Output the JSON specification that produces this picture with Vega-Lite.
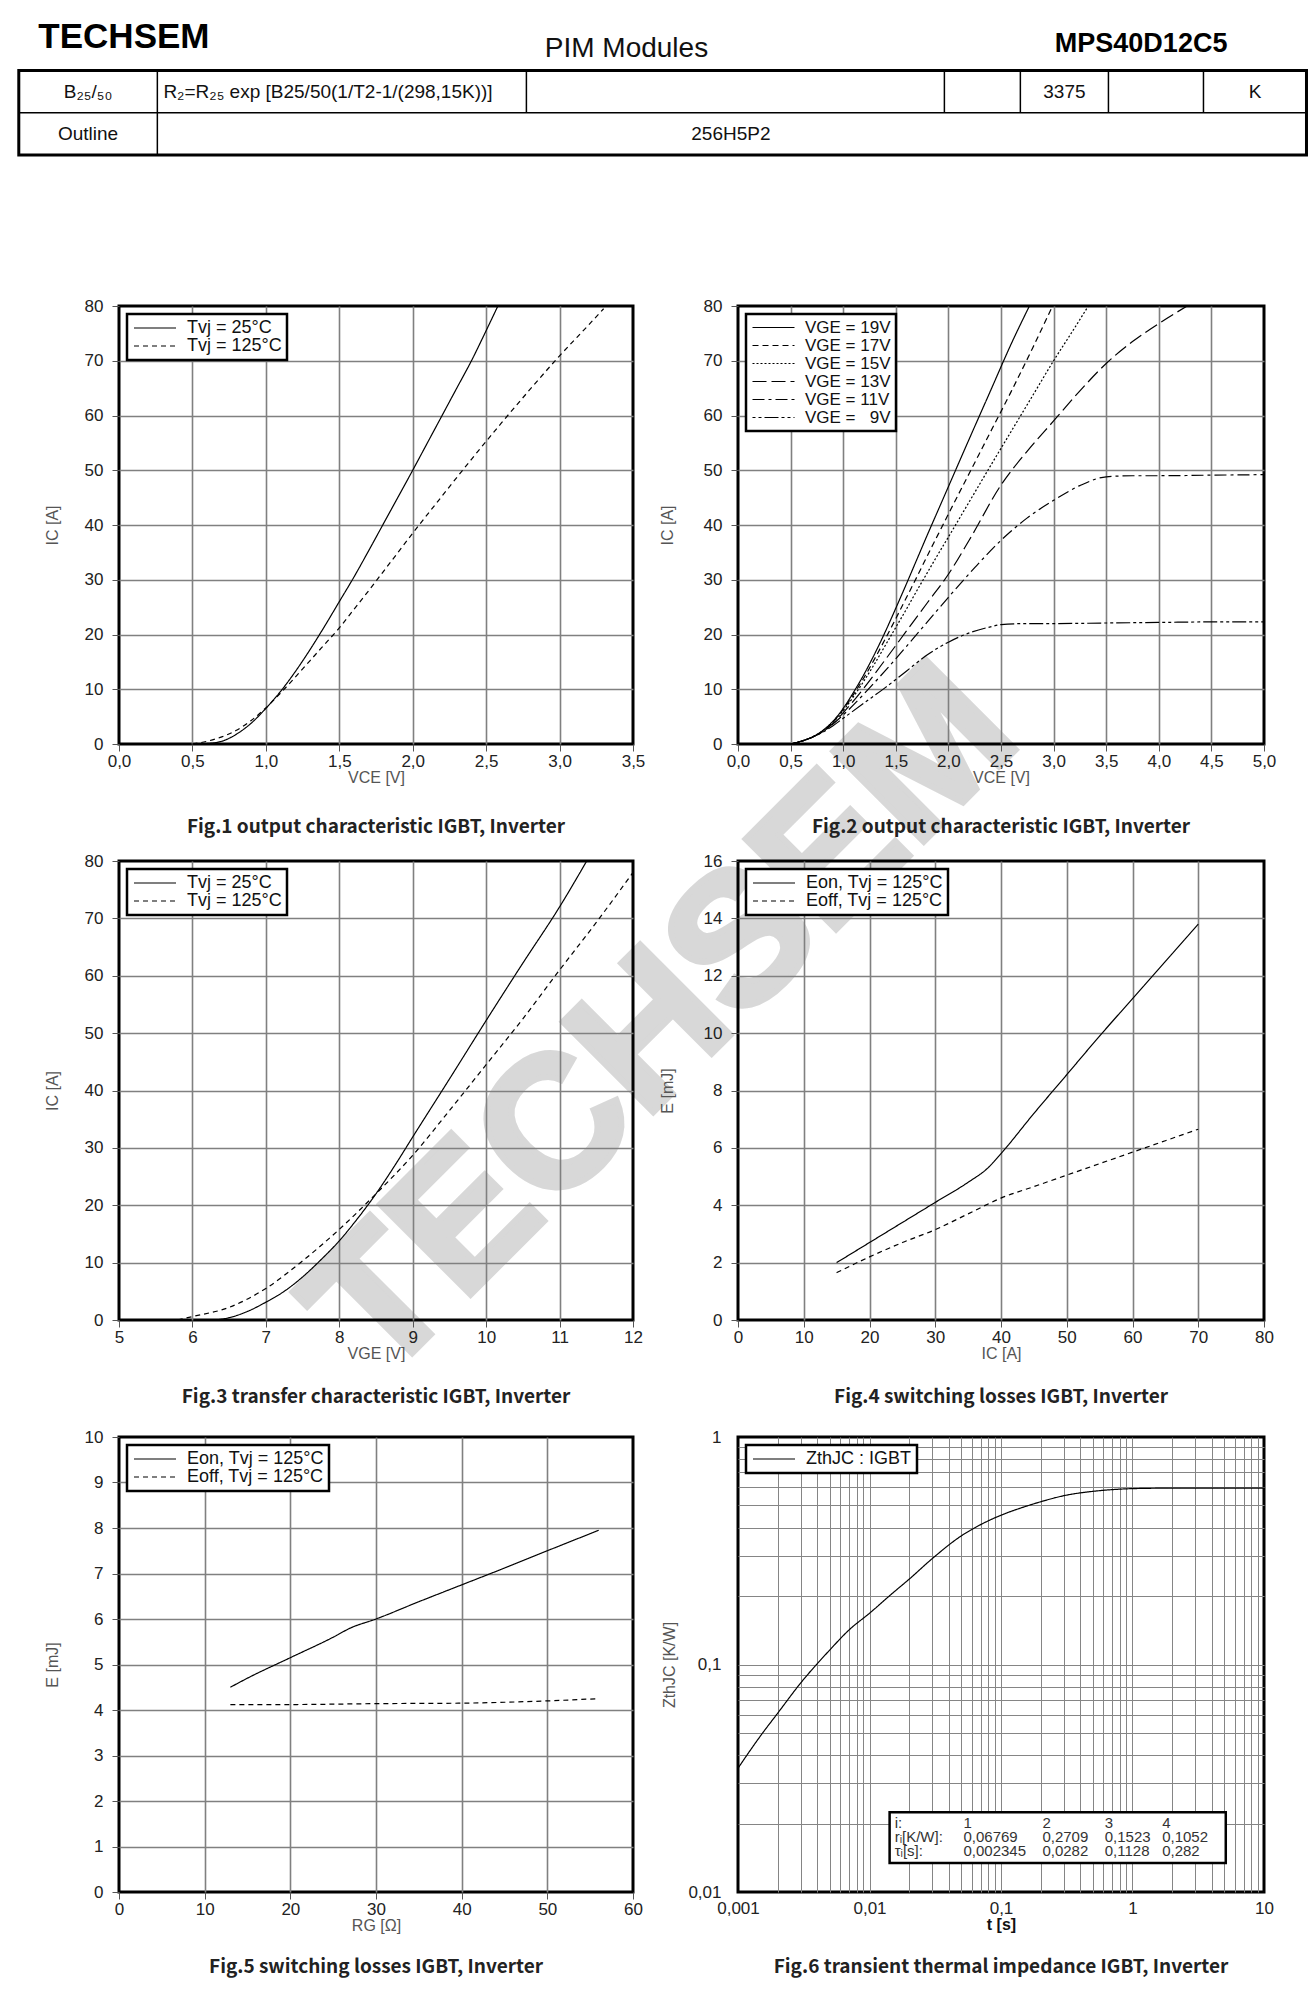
{
"$schema": "https://vega.github.io/schema/vega-lite/v6.json",
"padding": {"left": 17, "top": 0, "right": 0, "bottom": 0},
"bounds": "flush",
"spacing": 146,
"resolve": {"scale": {"strokeDash": "independent"}, "legend": {"strokeDash": "independent"}},
"vconcat": [
{
 "width": 1188, "height": 160,
 "view": {"stroke": null},
 "data": {"values": [
  {"k": "brand", "t": "TECHSEM"},
  {"k": "title", "t": "PIM  Modules"},
  {"k": "part", "t": "MPS40D12C5"},
  {"k": "b", "t": "B₂₅/₅₀"},
  {"k": "formula", "t": "R₂=R₂₅ exp [B25/50(1/T2-1/(298,15K))]"},
  {"k": "val", "t": "3375"},
  {"k": "unit", "t": "K"},
  {"k": "outline", "t": "Outline"},
  {"k": "pkg", "t": "256H5P2"},
  {"k": "wm", "t": "TECHSEM"}
 ]},
 "layer": [
  {"data": {"values": [{}]}, "mark": {"type": "rect", "filled": false, "stroke": "#000000", "strokeWidth": 3},
   "encoding": {"x": {"datum": 0, "type": "quantitative", "scale": {"domain": [7.782, 100.04], "nice": false, "zero": false}, "axis": null}, "x2": {"datum": 100},
    "y": {"datum": 0, "type": "quantitative", "scale": {"domain": [-1.669, 2.118], "reverse": true, "nice": false, "zero": false}, "axis": null}, "y2": {"datum": 2}}},
  {"data": {"values": [{}]}, "mark": {"type": "rule", "strokeWidth": 1.5, "color": "#000000"},
   "encoding": {"x": {"datum": 0, "type": "quantitative", "axis": null}, "x2": {"datum": 100}, "y": {"datum": 1, "type": "quantitative", "axis": null}}},
  {"data": {"values": [{}]}, "mark": {"type": "rule", "strokeWidth": 1.5, "color": "#000000"},
   "encoding": {"x": {"datum": 10.76, "type": "quantitative", "axis": null}, "y": {"datum": 0, "type": "quantitative", "axis": null}, "y2": {"datum": 2}}},
  {"data": {"values": [{}]}, "mark": {"type": "rule", "strokeWidth": 1.5, "color": "#000000"},
   "encoding": {"x": {"datum": 39.42, "type": "quantitative", "axis": null}, "y": {"datum": 0, "type": "quantitative", "axis": null}, "y2": {"datum": 1}}},
  {"data": {"values": [{}]}, "mark": {"type": "rule", "strokeWidth": 1.5, "color": "#000000"},
   "encoding": {"x": {"datum": 71.88, "type": "quantitative", "axis": null}, "y": {"datum": 0, "type": "quantitative", "axis": null}, "y2": {"datum": 1}}},
  {"data": {"values": [{}]}, "mark": {"type": "rule", "strokeWidth": 1.5, "color": "#000000"},
   "encoding": {"x": {"datum": 77.78, "type": "quantitative", "axis": null}, "y": {"datum": 0, "type": "quantitative", "axis": null}, "y2": {"datum": 1}}},
  {"data": {"values": [{}]}, "mark": {"type": "rule", "strokeWidth": 1.5, "color": "#000000"},
   "encoding": {"x": {"datum": 84.62, "type": "quantitative", "axis": null}, "y": {"datum": 0, "type": "quantitative", "axis": null}, "y2": {"datum": 1}}},
  {"data": {"values": [{}]}, "mark": {"type": "rule", "strokeWidth": 1.5, "color": "#000000"},
   "encoding": {"x": {"datum": 92.0, "type": "quantitative", "axis": null}, "y": {"datum": 0, "type": "quantitative", "axis": null}, "y2": {"datum": 1}}},
  {"transform": [{"filter": "datum.k === 'wm'"}], "mark": {"type": "text", "fontSize": 186, "fontWeight": "bold", "font": "Liberation Sans", "align": "center", "baseline": "middle", "angle": -45, "color": "#cfcfcf", "stroke": "#cfcfcf", "strokeWidth": 6, "opacity": 0.8},
   "encoding": {"x": {"datum": 50.06, "type": "quantitative", "axis": null}, "y": {"datum": 22.54, "type": "quantitative", "axis": null}, "text": {"field": "t"}}},
  {"transform": [{"filter": "datum.k === 'brand'"}], "mark": {"type": "text", "align": "left", "baseline": "alphabetic", "fontSize": 35, "fontWeight": "bold", "font": "Liberation Sans", "color": "#000000"},
   "encoding": {"x": {"datum": 1.52, "type": "quantitative", "axis": null}, "y": {"datum": -0.533, "type": "quantitative", "axis": null}, "text": {"field": "t"}}},
  {"transform": [{"filter": "datum.k === 'title'"}], "mark": {"type": "text", "align": "center", "baseline": "alphabetic", "fontSize": 28, "font": "Liberation Sans Narrow, Liberation Sans", "color": "#111111"},
   "encoding": {"x": {"datum": 47.19, "type": "quantitative", "axis": null}, "y": {"datum": -0.32, "type": "quantitative", "axis": null}, "text": {"field": "t"}}},
  {"transform": [{"filter": "datum.k === 'part'"}], "mark": {"type": "text", "align": "right", "baseline": "alphabetic", "fontSize": 27, "fontWeight": "bold", "font": "Liberation Sans", "color": "#000000"},
   "encoding": {"x": {"datum": 93.86, "type": "quantitative", "axis": null}, "y": {"datum": -0.438, "type": "quantitative", "axis": null}, "text": {"field": "t"}}},
  {"transform": [{"filter": "datum.k === 'b'"}], "mark": {"type": "text", "align": "center", "baseline": "middle", "fontSize": 19, "font": "Liberation Sans", "color": "#111111"},
   "encoding": {"x": {"datum": 5.38, "type": "quantitative", "axis": null}, "y": {"datum": 0.5, "type": "quantitative", "axis": null}, "text": {"field": "t"}}},
  {"transform": [{"filter": "datum.k === 'formula'"}], "mark": {"type": "text", "align": "left", "baseline": "middle", "fontSize": 19, "font": "Liberation Sans", "color": "#111111"},
   "encoding": {"x": {"datum": 11.23, "type": "quantitative", "axis": null}, "y": {"datum": 0.5, "type": "quantitative", "axis": null}, "text": {"field": "t"}}},
  {"transform": [{"filter": "datum.k === 'val'"}], "mark": {"type": "text", "align": "center", "baseline": "middle", "fontSize": 19, "font": "Liberation Sans", "color": "#111111"},
   "encoding": {"x": {"datum": 81.2, "type": "quantitative", "axis": null}, "y": {"datum": 0.5, "type": "quantitative", "axis": null}, "text": {"field": "t"}}},
  {"transform": [{"filter": "datum.k === 'unit'"}], "mark": {"type": "text", "align": "center", "baseline": "middle", "fontSize": 19, "font": "Liberation Sans", "color": "#111111"},
   "encoding": {"x": {"datum": 96.0, "type": "quantitative", "axis": null}, "y": {"datum": 0.5, "type": "quantitative", "axis": null}, "text": {"field": "t"}}},
  {"transform": [{"filter": "datum.k === 'outline'"}], "mark": {"type": "text", "align": "center", "baseline": "middle", "fontSize": 19, "font": "Liberation Sans", "color": "#111111"},
   "encoding": {"x": {"datum": 5.38, "type": "quantitative", "axis": null}, "y": {"datum": 1.5, "type": "quantitative", "axis": null}, "text": {"field": "t"}}},
  {"transform": [{"filter": "datum.k === 'pkg'"}], "mark": {"type": "text", "align": "center", "baseline": "middle", "fontSize": 19, "font": "Liberation Sans", "color": "#111111"},
   "encoding": {"x": {"datum": 55.3, "type": "quantitative", "axis": null}, "y": {"datum": 1.5, "type": "quantitative", "axis": null}, "text": {"field": "t"}}}
 ]
},
{
 "columns": 2,
 "bounds": "flush",
 "spacing": {"row": 117, "column": 105},
 "resolve": {"scale": {"strokeDash": "independent"}, "legend": {"strokeDash": "independent"}},
 "concat": [
 {
  "width": 514, "height": 438,
  "title": {"text": "Fig.1 output characteristic IGBT, Inverter", "offset": 33},
  "data": {"values": [
   {"c":"Tvj = 25°C","x":0.5,"y":0},{"c":"Tvj = 25°C","x":0.6,"y":0.1},{"c":"Tvj = 25°C","x":0.7,"y":0.5},{"c":"Tvj = 25°C","x":0.8,"y":1.8},{"c":"Tvj = 25°C","x":0.9,"y":3.8},{"c":"Tvj = 25°C","x":1.0,"y":6.5},{"c":"Tvj = 25°C","x":1.1,"y":9.6},{"c":"Tvj = 25°C","x":1.2,"y":13.2},{"c":"Tvj = 25°C","x":1.3,"y":17.2},{"c":"Tvj = 25°C","x":1.4,"y":21.5},{"c":"Tvj = 25°C","x":1.5,"y":26},{"c":"Tvj = 25°C","x":1.6,"y":30.5},{"c":"Tvj = 25°C","x":1.7,"y":35.3},{"c":"Tvj = 25°C","x":1.8,"y":40.2},{"c":"Tvj = 25°C","x":1.9,"y":45.1},{"c":"Tvj = 25°C","x":2.0,"y":50},{"c":"Tvj = 25°C","x":2.1,"y":55},{"c":"Tvj = 25°C","x":2.2,"y":60},{"c":"Tvj = 25°C","x":2.3,"y":65},{"c":"Tvj = 25°C","x":2.4,"y":70},{"c":"Tvj = 25°C","x":2.5,"y":75.5},{"c":"Tvj = 25°C","x":2.58,"y":80},
   {"c":"Tvj = 125°C","x":0.5,"y":0},{"c":"Tvj = 125°C","x":0.6,"y":0.5},{"c":"Tvj = 125°C","x":0.7,"y":1.3},{"c":"Tvj = 125°C","x":0.8,"y":2.5},{"c":"Tvj = 125°C","x":0.9,"y":4.3},{"c":"Tvj = 125°C","x":1.0,"y":6.6},{"c":"Tvj = 125°C","x":1.1,"y":9.3},{"c":"Tvj = 125°C","x":1.2,"y":12.2},{"c":"Tvj = 125°C","x":1.3,"y":15.2},{"c":"Tvj = 125°C","x":1.4,"y":18.2},{"c":"Tvj = 125°C","x":1.5,"y":21.2},{"c":"Tvj = 125°C","x":1.6,"y":24.6},{"c":"Tvj = 125°C","x":1.7,"y":28.0},{"c":"Tvj = 125°C","x":1.8,"y":31.5},{"c":"Tvj = 125°C","x":1.9,"y":35.0},{"c":"Tvj = 125°C","x":2.0,"y":38.5},{"c":"Tvj = 125°C","x":2.2,"y":45.3},{"c":"Tvj = 125°C","x":2.4,"y":52},{"c":"Tvj = 125°C","x":2.6,"y":58.5},{"c":"Tvj = 125°C","x":2.8,"y":64.8},{"c":"Tvj = 125°C","x":3.0,"y":70.9},{"c":"Tvj = 125°C","x":3.2,"y":76.6},{"c":"Tvj = 125°C","x":3.3,"y":79.5}
  ]},
  "mark": {"type": "line", "interpolate": "monotone"},
  "encoding": {
   "x": {"field": "x", "type": "quantitative", "scale": {"domain": [0, 3.5], "nice": false, "zero": false},
    "axis": {"title": "VCE [V]", "values": [0,0.5,1,1.5,2,2.5,3,3.5], "labelExpr": "replace(format(datum.value, '.1f'), '.', ',')",
     "gridOpacity": {"condition": {"test": "datum.value <= 0 || datum.value >= 3.5", "value": 0}, "value": 1}}},
   "y": {"field": "y", "type": "quantitative", "scale": {"domain": [0, 80], "nice": false},
    "axis": {"title": "IC [A]", "values": [0,10,20,30,40,50,60,70,80], "titlePadding": 24,
     "gridOpacity": {"condition": {"test": "datum.value <= 0 || datum.value >= 80", "value": 0}, "value": 1}}},
   "strokeDash": {"field": "c", "type": "nominal", "scale": {"domain": ["Tvj = 25°C", "Tvj = 125°C"], "range": [[1, 0], [5, 4]]}, "legend": {"title": null, "symbolType": "M-1,0L5,0"}}
  }
 },
 {
  "width": 526, "height": 438,
  "title": {"text": "Fig.2 output characteristic IGBT, Inverter", "offset": 33},
  "data": {"values": [
   {"c":"VGE = 19V","x":0.5,"y":0},{"c":"VGE = 19V","x":0.6,"y":0.5},{"c":"VGE = 19V","x":0.7,"y":1.2},{"c":"VGE = 19V","x":0.8,"y":2.4},{"c":"VGE = 19V","x":0.9,"y":4.1},{"c":"VGE = 19V","x":1.0,"y":6.5},{"c":"VGE = 19V","x":1.1,"y":9.5},{"c":"VGE = 19V","x":1.2,"y":12.8},{"c":"VGE = 19V","x":1.3,"y":16.5},{"c":"VGE = 19V","x":1.4,"y":20.5},{"c":"VGE = 19V","x":1.5,"y":24.8},{"c":"VGE = 19V","x":1.6,"y":29.2},{"c":"VGE = 19V","x":1.7,"y":33.7},{"c":"VGE = 19V","x":1.8,"y":38.2},{"c":"VGE = 19V","x":1.9,"y":42.6},{"c":"VGE = 19V","x":2.0,"y":47},{"c":"VGE = 19V","x":2.2,"y":55.8},{"c":"VGE = 19V","x":2.4,"y":64.5},{"c":"VGE = 19V","x":2.6,"y":73.2},{"c":"VGE = 19V","x":2.77,"y":80},
   {"c":"VGE = 17V","x":0.5,"y":0},{"c":"VGE = 17V","x":0.6,"y":0.5},{"c":"VGE = 17V","x":0.7,"y":1.2},{"c":"VGE = 17V","x":0.8,"y":2.3},{"c":"VGE = 17V","x":0.9,"y":4.0},{"c":"VGE = 17V","x":1.0,"y":6.3},{"c":"VGE = 17V","x":1.1,"y":9.1},{"c":"VGE = 17V","x":1.2,"y":12.2},{"c":"VGE = 17V","x":1.3,"y":15.6},{"c":"VGE = 17V","x":1.4,"y":19.2},{"c":"VGE = 17V","x":1.5,"y":22.9},{"c":"VGE = 17V","x":1.6,"y":26.7},{"c":"VGE = 17V","x":1.7,"y":30.5},{"c":"VGE = 17V","x":1.8,"y":34.4},{"c":"VGE = 17V","x":1.9,"y":38.2},{"c":"VGE = 17V","x":2.0,"y":42},{"c":"VGE = 17V","x":2.2,"y":49.5},{"c":"VGE = 17V","x":2.4,"y":57},{"c":"VGE = 17V","x":2.6,"y":64.5},{"c":"VGE = 17V","x":2.8,"y":72.3},{"c":"VGE = 17V","x":2.99,"y":80},
   {"c":"VGE = 15V","x":0.5,"y":0},{"c":"VGE = 15V","x":0.6,"y":0.5},{"c":"VGE = 15V","x":0.7,"y":1.2},{"c":"VGE = 15V","x":0.8,"y":2.3},{"c":"VGE = 15V","x":0.9,"y":3.9},{"c":"VGE = 15V","x":1.0,"y":6.1},{"c":"VGE = 15V","x":1.1,"y":8.7},{"c":"VGE = 15V","x":1.2,"y":11.6},{"c":"VGE = 15V","x":1.3,"y":14.7},{"c":"VGE = 15V","x":1.4,"y":18},{"c":"VGE = 15V","x":1.5,"y":21.3},{"c":"VGE = 15V","x":1.6,"y":24.6},{"c":"VGE = 15V","x":1.7,"y":28},{"c":"VGE = 15V","x":1.8,"y":31.3},{"c":"VGE = 15V","x":1.9,"y":34.6},{"c":"VGE = 15V","x":2.0,"y":37.8},{"c":"VGE = 15V","x":2.2,"y":44.3},{"c":"VGE = 15V","x":2.4,"y":50.8},{"c":"VGE = 15V","x":2.6,"y":57.2},{"c":"VGE = 15V","x":2.8,"y":63.6},{"c":"VGE = 15V","x":3.0,"y":70},{"c":"VGE = 15V","x":3.2,"y":76},{"c":"VGE = 15V","x":3.33,"y":80},
   {"c":"VGE = 13V","x":0.5,"y":0},{"c":"VGE = 13V","x":0.6,"y":0.5},{"c":"VGE = 13V","x":0.7,"y":1.2},{"c":"VGE = 13V","x":0.8,"y":2.2},{"c":"VGE = 13V","x":0.9,"y":3.7},{"c":"VGE = 13V","x":1.0,"y":5.7},{"c":"VGE = 13V","x":1.2,"y":10.3},{"c":"VGE = 13V","x":1.4,"y":15.4},{"c":"VGE = 13V","x":1.6,"y":20.6},{"c":"VGE = 13V","x":1.8,"y":25.8},{"c":"VGE = 13V","x":2.0,"y":31},{"c":"VGE = 13V","x":2.2,"y":37.3},{"c":"VGE = 13V","x":2.5,"y":47.3},{"c":"VGE = 13V","x":2.75,"y":53.5},{"c":"VGE = 13V","x":3.0,"y":59},{"c":"VGE = 13V","x":3.25,"y":64.5},{"c":"VGE = 13V","x":3.5,"y":69.5},{"c":"VGE = 13V","x":3.75,"y":73.5},{"c":"VGE = 13V","x":4.0,"y":76.8},{"c":"VGE = 13V","x":4.27,"y":80},
   {"c":"VGE = 11V","x":0.5,"y":0},{"c":"VGE = 11V","x":0.6,"y":0.5},{"c":"VGE = 11V","x":0.7,"y":1.2},{"c":"VGE = 11V","x":0.8,"y":2.2},{"c":"VGE = 11V","x":0.9,"y":3.6},{"c":"VGE = 11V","x":1.0,"y":5.3},{"c":"VGE = 11V","x":1.2,"y":9.2},{"c":"VGE = 11V","x":1.4,"y":13.4},{"c":"VGE = 11V","x":1.6,"y":17.8},{"c":"VGE = 11V","x":1.8,"y":22.3},{"c":"VGE = 11V","x":2.0,"y":26.8},{"c":"VGE = 11V","x":2.25,"y":32.2},{"c":"VGE = 11V","x":2.5,"y":37.2},{"c":"VGE = 11V","x":2.75,"y":41.3},{"c":"VGE = 11V","x":3.0,"y":44.5},{"c":"VGE = 11V","x":3.25,"y":47.2},{"c":"VGE = 11V","x":3.5,"y":48.8},{"c":"VGE = 11V","x":3.75,"y":49},{"c":"VGE = 11V","x":4.0,"y":49},{"c":"VGE = 11V","x":4.5,"y":49.1},{"c":"VGE = 11V","x":5.0,"y":49.2},
   {"c":"VGE = \u20079V","x":0.5,"y":0},{"c":"VGE = \u20079V","x":0.6,"y":0.5},{"c":"VGE = \u20079V","x":0.7,"y":1.2},{"c":"VGE = \u20079V","x":0.8,"y":2.1},{"c":"VGE = \u20079V","x":0.9,"y":3.3},{"c":"VGE = \u20079V","x":1.0,"y":4.7},{"c":"VGE = \u20079V","x":1.2,"y":7.5},{"c":"VGE = \u20079V","x":1.4,"y":10.3},{"c":"VGE = \u20079V","x":1.6,"y":13.3},{"c":"VGE = \u20079V","x":1.8,"y":16.3},{"c":"VGE = \u20079V","x":2.0,"y":18.6},{"c":"VGE = \u20079V","x":2.2,"y":20.3},{"c":"VGE = \u20079V","x":2.4,"y":21.4},{"c":"VGE = \u20079V","x":2.5,"y":21.8},{"c":"VGE = \u20079V","x":2.75,"y":22},{"c":"VGE = \u20079V","x":3.0,"y":22},{"c":"VGE = \u20079V","x":3.5,"y":22.1},{"c":"VGE = \u20079V","x":4.0,"y":22.2},{"c":"VGE = \u20079V","x":4.5,"y":22.3},{"c":"VGE = \u20079V","x":5.0,"y":22.3}
  ]},
  "mark": {"type": "line", "interpolate": "monotone"},
  "encoding": {
   "x": {"field": "x", "type": "quantitative", "scale": {"domain": [0, 5], "nice": false, "zero": false},
    "axis": {"title": "VCE [V]", "values": [0,0.5,1,1.5,2,2.5,3,3.5,4,4.5,5], "labelExpr": "replace(format(datum.value, '.1f'), '.', ',')",
     "gridOpacity": {"condition": {"test": "datum.value <= 0 || datum.value >= 5", "value": 0}, "value": 1}}},
   "y": {"field": "y", "type": "quantitative", "scale": {"domain": [0, 80], "nice": false},
    "axis": {"title": "IC [A]", "values": [0,10,20,30,40,50,60,70,80], "titlePadding": 28,
     "gridOpacity": {"condition": {"test": "datum.value <= 0 || datum.value >= 80", "value": 0}, "value": 1}}},
   "strokeDash": {"field": "c", "type": "nominal", "scale": {"domain": ["VGE = 19V", "VGE = 17V", "VGE = 15V", "VGE = 13V", "VGE = 11V", "VGE = \u20079V"], "range": [[1, 0], [6, 4], [2, 2], [14, 5], [12, 4, 3, 4], [3, 3, 3, 3, 14, 3]]}, "legend": {"title": null, "symbolType": "M-1,0L5,0", "rowPadding": 0, "labelFontSize": 17}}
  }
 },
 {
  "width": 514, "height": 459,
  "title": {"text": "Fig.3 transfer characteristic IGBT, Inverter", "offset": 27},
  "data": {"values": [
   {"c":"Tvj = 25°C","x":6.3,"y":0},{"c":"Tvj = 25°C","x":6.5,"y":0.4},{"c":"Tvj = 25°C","x":6.75,"y":1.5},{"c":"Tvj = 25°C","x":7.0,"y":3.1},{"c":"Tvj = 25°C","x":7.25,"y":5},{"c":"Tvj = 25°C","x":7.5,"y":7.5},{"c":"Tvj = 25°C","x":7.75,"y":10.5},{"c":"Tvj = 25°C","x":8.0,"y":13.8},{"c":"Tvj = 25°C","x":8.25,"y":17.7},{"c":"Tvj = 25°C","x":8.5,"y":22},{"c":"Tvj = 25°C","x":8.75,"y":26.8},{"c":"Tvj = 25°C","x":9.0,"y":31.9},{"c":"Tvj = 25°C","x":9.5,"y":42},{"c":"Tvj = 25°C","x":10.0,"y":52.2},{"c":"Tvj = 25°C","x":10.5,"y":62.2},{"c":"Tvj = 25°C","x":11.0,"y":72},{"c":"Tvj = 25°C","x":11.37,"y":80},
   {"c":"Tvj = 125°C","x":5.8,"y":0},{"c":"Tvj = 125°C","x":6.0,"y":0.6},{"c":"Tvj = 125°C","x":6.5,"y":2.2},{"c":"Tvj = 125°C","x":7.0,"y":5.5},{"c":"Tvj = 125°C","x":7.5,"y":10.3},{"c":"Tvj = 125°C","x":8.0,"y":15.8},{"c":"Tvj = 125°C","x":8.5,"y":22},{"c":"Tvj = 125°C","x":9.0,"y":28.7},{"c":"Tvj = 125°C","x":9.5,"y":36.5},{"c":"Tvj = 125°C","x":10.0,"y":44.5},{"c":"Tvj = 125°C","x":10.5,"y":52.5},{"c":"Tvj = 125°C","x":11.0,"y":61},{"c":"Tvj = 125°C","x":11.5,"y":69.3},{"c":"Tvj = 125°C","x":12.0,"y":78}
  ]},
  "mark": {"type": "line", "interpolate": "monotone"},
  "encoding": {
   "x": {"field": "x", "type": "quantitative", "scale": {"domain": [5, 12], "nice": false, "zero": false},
    "axis": {"title": "VGE [V]", "values": [5,6,7,8,9,10,11,12],
     "gridOpacity": {"condition": {"test": "datum.value <= 5 || datum.value >= 12", "value": 0}, "value": 1}}},
   "y": {"field": "y", "type": "quantitative", "scale": {"domain": [0, 80], "nice": false},
    "axis": {"title": "IC [A]", "values": [0,10,20,30,40,50,60,70,80], "titlePadding": 24,
     "gridOpacity": {"condition": {"test": "datum.value <= 0 || datum.value >= 80", "value": 0}, "value": 1}}},
   "strokeDash": {"field": "c", "type": "nominal", "scale": {"domain": ["Tvj = 25°C", "Tvj = 125°C"], "range": [[1, 0], [5, 4]]}, "legend": {"title": null, "symbolType": "M-1,0L5,0"}}
  }
 },
 {
  "width": 526, "height": 459,
  "title": {"text": "Fig.4 switching losses IGBT, Inverter", "offset": 27},
  "data": {"values": [
   {"c":"Eon, Tvj = 125°C","x":15,"y":2.0},{"c":"Eon, Tvj = 125°C","x":20,"y":2.7},{"c":"Eon, Tvj = 125°C","x":25,"y":3.4},{"c":"Eon, Tvj = 125°C","x":30,"y":4.1},{"c":"Eon, Tvj = 125°C","x":35,"y":4.8},{"c":"Eon, Tvj = 125°C","x":38,"y":5.3},{"c":"Eon, Tvj = 125°C","x":40,"y":5.8},{"c":"Eon, Tvj = 125°C","x":45,"y":7.2},{"c":"Eon, Tvj = 125°C","x":50,"y":8.55},{"c":"Eon, Tvj = 125°C","x":55,"y":9.9},{"c":"Eon, Tvj = 125°C","x":60,"y":11.2},{"c":"Eon, Tvj = 125°C","x":65,"y":12.5},{"c":"Eon, Tvj = 125°C","x":70,"y":13.8},
   {"c":"Eoff, Tvj = 125°C","x":15,"y":1.65},{"c":"Eoff, Tvj = 125°C","x":20,"y":2.2},{"c":"Eoff, Tvj = 125°C","x":25,"y":2.7},{"c":"Eoff, Tvj = 125°C","x":30,"y":3.15},{"c":"Eoff, Tvj = 125°C","x":35,"y":3.7},{"c":"Eoff, Tvj = 125°C","x":40,"y":4.25},{"c":"Eoff, Tvj = 125°C","x":45,"y":4.65},{"c":"Eoff, Tvj = 125°C","x":50,"y":5.05},{"c":"Eoff, Tvj = 125°C","x":55,"y":5.45},{"c":"Eoff, Tvj = 125°C","x":60,"y":5.85},{"c":"Eoff, Tvj = 125°C","x":65,"y":6.25},{"c":"Eoff, Tvj = 125°C","x":70,"y":6.65}
  ]},
  "mark": {"type": "line", "interpolate": "monotone"},
  "encoding": {
   "x": {"field": "x", "type": "quantitative", "scale": {"domain": [0, 80], "nice": false, "zero": false},
    "axis": {"title": "IC [A]", "values": [0,10,20,30,40,50,60,70,80],
     "gridOpacity": {"condition": {"test": "datum.value <= 0 || datum.value >= 80", "value": 0}, "value": 1}}},
   "y": {"field": "y", "type": "quantitative", "scale": {"domain": [0, 16], "nice": false},
    "axis": {"title": "E [mJ]", "values": [0,2,4,6,8,10,12,14,16], "titlePadding": 28,
     "gridOpacity": {"condition": {"test": "datum.value <= 0 || datum.value >= 16", "value": 0}, "value": 1}}},
   "strokeDash": {"field": "c", "type": "nominal", "scale": {"domain": ["Eon, Tvj = 125°C", "Eoff, Tvj = 125°C"], "range": [[1, 0], [5, 4]]}, "legend": {"title": null, "symbolType": "M-1,0L5,0"}}
  }
 },
 {
  "width": 514, "height": 455,
  "title": {"text": "Fig.5 switching losses IGBT, Inverter", "offset": 25},
  "data": {"values": [
   {"c":"Eon, Tvj = 125°C","x":13,"y":4.5},{"c":"Eon, Tvj = 125°C","x":15,"y":4.7},{"c":"Eon, Tvj = 125°C","x":20,"y":5.15},{"c":"Eon, Tvj = 125°C","x":25,"y":5.6},{"c":"Eon, Tvj = 125°C","x":27,"y":5.8},{"c":"Eon, Tvj = 125°C","x":30,"y":6.0},{"c":"Eon, Tvj = 125°C","x":35,"y":6.38},{"c":"Eon, Tvj = 125°C","x":40,"y":6.75},{"c":"Eon, Tvj = 125°C","x":45,"y":7.12},{"c":"Eon, Tvj = 125°C","x":50,"y":7.5},{"c":"Eon, Tvj = 125°C","x":56,"y":7.95},
   {"c":"Eoff, Tvj = 125°C","x":13,"y":4.12},{"c":"Eoff, Tvj = 125°C","x":20,"y":4.12},{"c":"Eoff, Tvj = 125°C","x":30,"y":4.14},{"c":"Eoff, Tvj = 125°C","x":40,"y":4.15},{"c":"Eoff, Tvj = 125°C","x":45,"y":4.17},{"c":"Eoff, Tvj = 125°C","x":50,"y":4.2},{"c":"Eoff, Tvj = 125°C","x":56,"y":4.25}
  ]},
  "mark": {"type": "line", "interpolate": "monotone"},
  "encoding": {
   "x": {"field": "x", "type": "quantitative", "scale": {"domain": [0, 60], "nice": false, "zero": false},
    "axis": {"title": "RG [Ω]", "values": [0,10,20,30,40,50,60],
     "gridOpacity": {"condition": {"test": "datum.value <= 0 || datum.value >= 60", "value": 0}, "value": 1}}},
   "y": {"field": "y", "type": "quantitative", "scale": {"domain": [0, 10], "nice": false},
    "axis": {"title": "E [mJ]", "values": [0,1,2,3,4,5,6,7,8,9,10], "titlePadding": 24,
     "gridOpacity": {"condition": {"test": "datum.value <= 0 || datum.value >= 10", "value": 0}, "value": 1}}},
   "strokeDash": {"field": "c", "type": "nominal", "scale": {"domain": ["Eon, Tvj = 125°C", "Eoff, Tvj = 125°C"], "range": [[1, 0], [5, 4]]}, "legend": {"title": null, "symbolType": "M-1,0L5,0"}}
  }
 },
 {
  "width": 526, "height": 455,
  "title": {"text": "Fig.6 transient thermal impedance IGBT, Inverter", "offset": 26},
  "data": {"values": [
   {"c":"Zth","t":"i:\nrᵢ[K/W]:\nτᵢ[s]:"},{"c":"c1","t":"1\n0,06769\n0,002345"},{"c":"c2","t":"2\n0,2709\n0,0282"},{"c":"c3","t":"3\n0,1523\n0,1128"},{"c":"c4","t":"4\n0,1052\n0,282"}
  ]},
  "layer": [
   {
    "data": {"values": [
     {"c":"ZthJC : IGBT","x":0.001,"y":0.035},{"c":"ZthJC : IGBT","x":0.0015,"y":0.049},{"c":"ZthJC : IGBT","x":0.002,"y":0.061},{"c":"ZthJC : IGBT","x":0.003,"y":0.083},{"c":"ZthJC : IGBT","x":0.005,"y":0.116},{"c":"ZthJC : IGBT","x":0.007,"y":0.142},{"c":"ZthJC : IGBT","x":0.01,"y":0.168},{"c":"ZthJC : IGBT","x":0.015,"y":0.206},{"c":"ZthJC : IGBT","x":0.02,"y":0.237},{"c":"ZthJC : IGBT","x":0.03,"y":0.292},{"c":"ZthJC : IGBT","x":0.05,"y":0.368},{"c":"ZthJC : IGBT","x":0.07,"y":0.412},{"c":"ZthJC : IGBT","x":0.1,"y":0.453},{"c":"ZthJC : IGBT","x":0.15,"y":0.493},{"c":"ZthJC : IGBT","x":0.2,"y":0.519},{"c":"ZthJC : IGBT","x":0.3,"y":0.552},{"c":"ZthJC : IGBT","x":0.5,"y":0.577},{"c":"ZthJC : IGBT","x":0.7,"y":0.587},{"c":"ZthJC : IGBT","x":1,"y":0.593},{"c":"ZthJC : IGBT","x":2,"y":0.596},{"c":"ZthJC : IGBT","x":5,"y":0.596},{"c":"ZthJC : IGBT","x":10,"y":0.596}
    ]},
    "mark": {"type": "line", "interpolate": "monotone"},
    "encoding": {
     "x": {"field": "x", "type": "quantitative", "scale": {"type": "log", "domain": [0.001, 10], "nice": false},
      "axis": {"title": "t [s]", "titleFontWeight": "bold", "titleColor": "#111111", "titlePadding": 0, "ticks": false, "labelPadding": 8, "gridColor": "#858585", "gridWidth": 1,
       "values": [0.001,0.002,0.003,0.004,0.005,0.006,0.007,0.008,0.009,0.01,0.02,0.03,0.04,0.05,0.06,0.07,0.08,0.09,0.1,0.2,0.3,0.4,0.5,0.6,0.7,0.8,0.9,1,2,3,4,5,6,7,8,9,10],
       "labelExpr": "datum.value == 0.001 ? '0,001' : datum.value == 0.01 ? '0,01' : datum.value == 0.1 ? '0,1' : datum.value == 1 ? '1' : datum.value == 10 ? '10' : ''",
       "gridOpacity": {"condition": {"test": "datum.value <= 0.001 || datum.value >= 10", "value": 0}, "value": 1}}},
     "y": {"field": "y", "type": "quantitative", "scale": {"type": "log", "domain": [0.01, 1], "nice": false},
      "axis": {"title": "ZthJC [K/W]", "ticks": false, "labelPadding": 17, "titlePadding": 10, "gridColor": "#858585", "gridWidth": 1,
       "values": [0.01,0.02,0.03,0.04,0.05,0.06,0.07,0.08,0.09,0.1,0.2,0.3,0.4,0.5,0.6,0.7,0.8,0.9,1],
       "labelExpr": "datum.value == 0.01 ? '0,01' : datum.value == 0.1 ? '0,1' : datum.value == 1 ? '1' : ''",
       "gridOpacity": {"condition": {"test": "datum.value <= 0.01 || datum.value >= 1", "value": 0}, "value": 1}}},
     "strokeDash": {"field": "c", "type": "nominal", "scale": {"domain": ["ZthJC : IGBT"], "range": [[1, 0]]}, "legend": {"title": null, "symbolType": "M-1,0L5,0"}}
    }
   },
   {
    "data": {"values": [{}]},
    "mark": {"type": "rect", "fill": "#ffffff", "stroke": "#000000", "strokeWidth": 2.5},
    "encoding": {"x": {"datum": 0.01422, "type": "quantitative"}, "x2": {"datum": 5.12}, "y": {"datum": 0.0224, "type": "quantitative"}, "y2": {"datum": 0.01342}}
   },
   {"transform": [{"filter": "datum.c === 'Zth'"}], "mark": {"type": "text", "align": "left", "baseline": "top", "fontSize": 15, "lineHeight": 14, "lineBreak": "\n", "color": "#333333"},
    "encoding": {"x": {"datum": 0.01553, "type": "quantitative"}, "y": {"datum": 0.0216, "type": "quantitative"}, "text": {"field": "t"}}},
   {"transform": [{"filter": "datum.c === 'c1'"}], "mark": {"type": "text", "align": "left", "baseline": "top", "fontSize": 15, "lineHeight": 14, "lineBreak": "\n", "color": "#333333"},
    "encoding": {"x": {"datum": 0.0518, "type": "quantitative"}, "y": {"datum": 0.0216, "type": "quantitative"}, "text": {"field": "t"}}},
   {"transform": [{"filter": "datum.c === 'c2'"}], "mark": {"type": "text", "align": "left", "baseline": "top", "fontSize": 15, "lineHeight": 14, "lineBreak": "\n", "color": "#333333"},
    "encoding": {"x": {"datum": 0.2065, "type": "quantitative"}, "y": {"datum": 0.0216, "type": "quantitative"}, "text": {"field": "t"}}},
   {"transform": [{"filter": "datum.c === 'c3'"}], "mark": {"type": "text", "align": "left", "baseline": "top", "fontSize": 15, "lineHeight": 14, "lineBreak": "\n", "color": "#333333"},
    "encoding": {"x": {"datum": 0.615, "type": "quantitative"}, "y": {"datum": 0.0216, "type": "quantitative"}, "text": {"field": "t"}}},
   {"transform": [{"filter": "datum.c === 'c4'"}], "mark": {"type": "text", "align": "left", "baseline": "top", "fontSize": 15, "lineHeight": 14, "lineBreak": "\n", "color": "#333333"},
    "encoding": {"x": {"datum": 1.68, "type": "quantitative"}, "y": {"datum": 0.0216, "type": "quantitative"}, "text": {"field": "t"}}}
  ]
 }
 ]
}
],
"config": {
 "font": "Liberation Sans",
 "view": {"stroke": "#000000", "strokeWidth": 3},
 "axis": {"grid": true, "gridColor": "#808080", "gridWidth": 1.6, "domain": false, "ticks": true, "tickSize": 7, "tickColor": "#555555", "tickWidth": 1, "labelFont": "Liberation Sans", "labelFontSize": 17, "labelColor": "#222222", "labelPadding": 9, "labelFlush": false, "labelOverlap": false, "titleFont": "Liberation Sans", "titleFontSize": 16, "titleFontWeight": "normal", "titleColor": "#555555"},
 "axisX": {"titlePadding": 0, "labelPadding": 2},
 "legend": {"orient": "top-left", "offset": 8, "padding": 5, "strokeColor": "#000000", "strokeWidth": 2.5, "fillColor": "#ffffff", "labelFont": "Liberation Sans", "labelFontSize": 18, "labelColor": "#111111", "labelOffset": 37, "symbolType": "M-1,0L5,0", "symbolSize": 196, "symbolStrokeWidth": 1.2, "symbolStrokeColor": "#000000", "symbolFillColor": "transparent", "rowPadding": 0},
 "title": {"font": "Noto Sans CJK SC", "fontSize": 19, "fontWeight": "bold", "color": "#222222", "orient": "bottom", "anchor": "middle", "frame": "group"},
 "line": {"color": "#000000", "strokeWidth": 1.2}
}
}
